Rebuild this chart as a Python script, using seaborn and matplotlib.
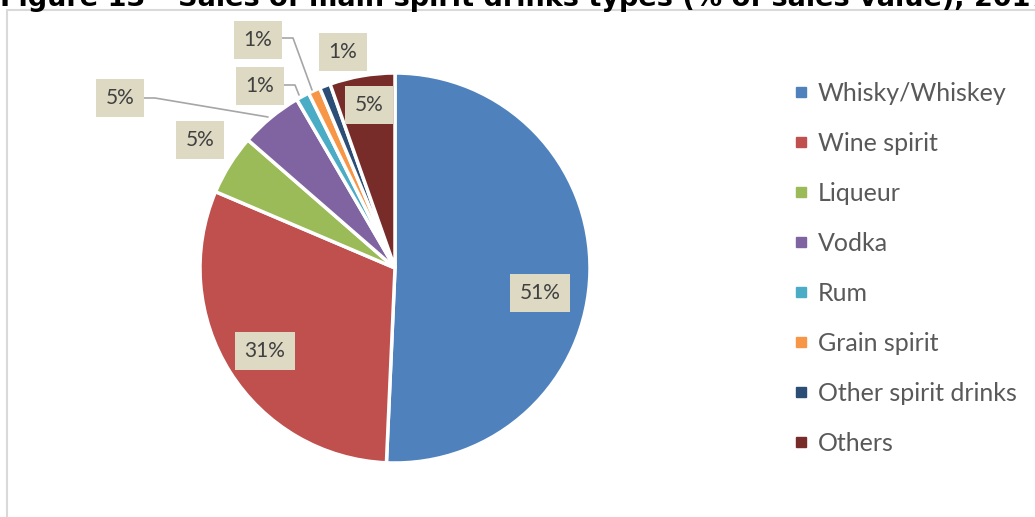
"""Pie chart of sales of main spirit drinks types."""

import matplotlib

matplotlib.use("Agg")

import matplotlib.pyplot as plt
import matplotlib.patches as mpatches
from matplotlib.lines import Line2D
import seaborn as sns

# data
categories = [
    "Whisky/Whiskey",
    "Wine spirit",
    "Liqueur",
    "Vodka",
    "Rum",
    "Grain spirit",
    "Other spirit drinks",
    "Others",
]
shares = [50.7, 30.7, 5.0, 5.2, 1.1, 1.0, 0.9, 5.4]
share_labels = ["51%", "31%", "5%", "5%", "1%", "1%", "1%", "5%"]
colors = [
    "#4F81BD",
    "#C0504D",
    "#9BBB59",
    "#8064A2",
    "#4BACC6",
    "#F79646",
    "#2C4D75",
    "#772C2A",
]
title = "Figure 13 \u2013 Sales of main spirit drinks types (% of sales value), 2017"

W, H = 1035, 517


def py(y):
    """Convert a pixel row (from top) to data y."""
    return H - y


sns.set_theme(style="white")
plt.rcParams["font.family"] = ["Lato", "DejaVu Sans"]

fig = plt.figure(figsize=(W / 100, H / 100), dpi=100)
ax = fig.add_axes([0, 0, 1, 1])

palette = sns.color_palette(colors)
wedges, _ = ax.pie(
    shares,
    colors=palette,
    startangle=90,
    counterclock=False,
    center=(395, py(268)),
    radius=195,
    wedgeprops=dict(edgecolor="white", linewidth=2.5),
)
ax.set_xlim(0, W)
ax.set_ylim(0, H)
ax.set_aspect("equal")
ax.axis("off")

# label boxes (pixel centres)
label_pos = [(540, 293), (265, 351), (200, 140), (120, 98),
             (260, 86), (258, 40), (343, 52), (369, 105)]
for text, (x, y) in zip(share_labels, label_pos):
    ax.text(
        x, py(y), text, ha="center", va="center", fontsize=15, color="#404040",
        bbox=dict(boxstyle="square,pad=0.45", facecolor="#DDD9C3", edgecolor="none"),
        zorder=5,
    )

# leader lines
leaders = [
    [(143, 98), (155, 98), (268, 117)],
    [(283, 85), (295, 85), (299, 95)],
    [(282, 38), (293, 38), (312, 90)],
]
for pts in leaders:
    ax.plot([p[0] for p in pts], [py(p[1]) for p in pts],
            color="#A6A6A6", lw=1.2, zorder=4)

# legend
handles = [
    Line2D([], [], marker="s", linestyle="none", markersize=6.8,
           markerfacecolor=c, markeredgecolor=c)
    for c in colors
]
leg = fig.legend(
    handles, categories, loc="upper left", bbox_to_anchor=(791 / W, 1 - 82 / H),
    frameon=False, fontsize=18, handlelength=0.8, handletextpad=0.28,
    labelspacing=1.08, borderaxespad=0, borderpad=0,
)
for t in leg.get_texts():
    t.set_color("#595959")

# chart frame (cut at right and bottom)
fig.patches.append(mpatches.Rectangle(
    (7 / W, -0.1), 1.2, (H - 10) / H + 0.1, transform=fig.transFigure,
    fill=False, edgecolor="#D9D9D9", linewidth=1.5,
))

# title, clipped at the top like the source
fig.text(0.0, 1 - 6 / H, title, fontsize=19.5, fontweight="bold",
         family="DejaVu Sans", color="black", va="baseline", ha="left")

fig.savefig("out.png", dpi=100)
